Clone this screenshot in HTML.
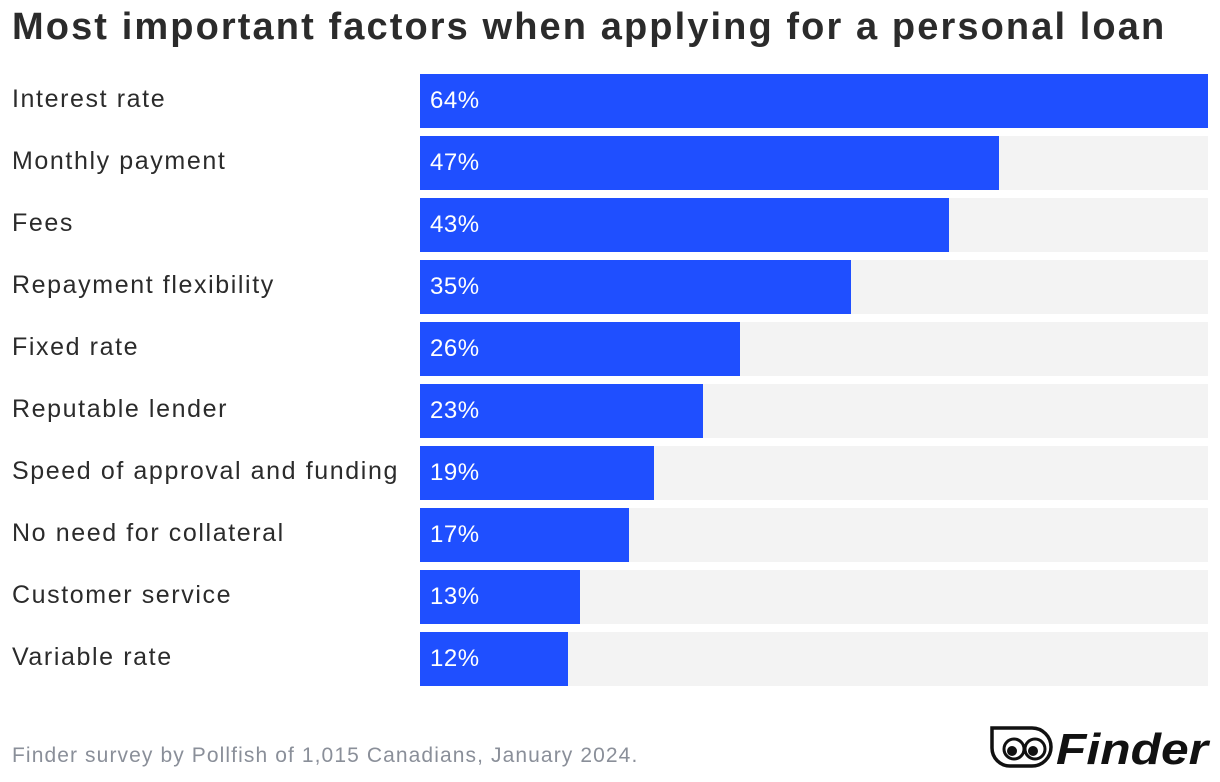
<!DOCTYPE html>
<html><head><meta charset="utf-8"><style>
body{margin:0;width:1220px;height:782px;background:#fff;font-family:"Liberation Sans",sans-serif;position:relative;overflow:hidden}
h1{position:absolute;left:12px;top:6px;margin:0;font-size:38px;font-weight:bold;color:#2b2b2b;letter-spacing:2.1px;white-space:nowrap}
.lbl{position:absolute;left:12px;font-size:25px;color:#2b2b2b;letter-spacing:1.6px;white-space:nowrap}
.track{position:absolute;left:420px;width:788px;height:54px;background:#f3f3f3}
.bar{position:absolute;left:0;top:0;height:54px;background:#1f4fff}
.val{position:absolute;left:10px;top:13px;font-size:24px;color:#fff;letter-spacing:0.5px}
.src{position:absolute;left:12px;top:744px;font-size:21px;color:#8a8f99;letter-spacing:1.1px;white-space:nowrap}
</style></head><body>
<h1>Most important factors when applying for a personal loan</h1>
<div id="chart"></div>
<div class="src">Finder survey by Pollfish of 1,015 Canadians, January 2024.</div>
<div style="position:absolute;left:990px;top:725px;">
<svg width="225" height="45" viewBox="0 0 225 45">
<path d="M2,3 H42 A19,19 0 0 1 61,22 A19,19 0 0 1 42,41 H20 A18,18 0 0 1 2,23 Z" fill="none" stroke="#111" stroke-width="3.5"/>
<circle cx="24" cy="24" r="10" fill="none" stroke="#111" stroke-width="3"/>
<circle cx="45" cy="24" r="10" fill="none" stroke="#111" stroke-width="3"/>
<circle cx="22" cy="26" r="5" fill="#111"/><circle cx="43" cy="26" r="5" fill="#111"/>
<text x="66" y="39" font-family="Liberation Sans,sans-serif" font-weight="bold" font-style="italic" font-size="44" fill="#111" textLength="152" lengthAdjust="spacingAndGlyphs">Finder</text>
</svg></div>
<script>
const categories=["Interest rate","Monthly payment","Fees","Repayment flexibility","Fixed rate","Reputable lender","Speed of approval and funding","No need for collateral","Customer service","Variable rate"];
const values=[64,47,43,35,26,23,19,17,13,12];
const maxValue=64;
const chart=document.getElementById('chart');
function x(v){return v/maxValue*788;}
function y(i){return 74+i*62;}
categories.forEach((c,i)=>{
  const l=document.createElement('div');l.className='lbl';l.style.top=(y(i)+11)+'px';l.textContent=c;
  
  
  chart.appendChild(l);
  const t=document.createElement('div');t.className='track';t.style.top=y(i)+'px';
  
  
  const b=document.createElement('div');b.className='bar';b.style.width=x(values[i])+'px';
  
  
  const v=document.createElement('div');v.className='val';v.textContent=values[i]+'%';
  
  
  b.appendChild(v);t.appendChild(b);chart.appendChild(t);
});
</script>
</body></html>
